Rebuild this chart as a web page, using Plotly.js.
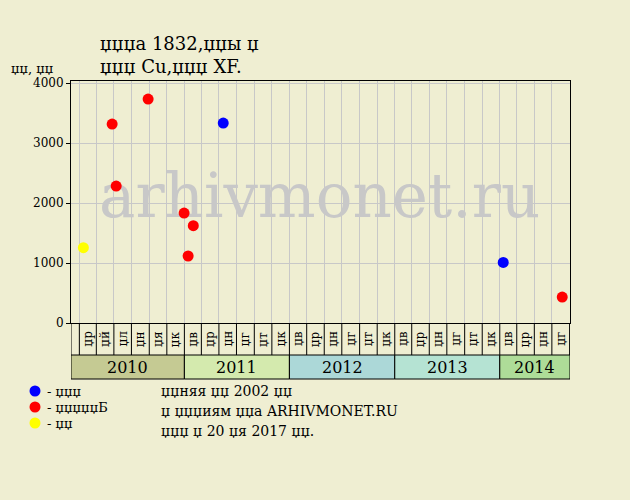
<!DOCTYPE html>
<html><head><meta charset="utf-8">
<script src="https://cdn.plot.ly/plotly-3.0.1.min.js"></script>
<style>html,body{margin:0;padding:0;background:#efeed2;}</style>
</head><body><div id="chart" style="width:630px;height:500px;"></div>
<script>
// ---- data ----
const blueName = 'џџџ';
const blueDates = ['2011-05-16', '2014-01-13'];
const blueValues = [3333, 1010];
const redName = 'џџџџџБ';
const redDates = ['2010-04-25', '2010-05-09', '2010-08-28', '2010-12-31', '2011-01-14', '2011-02-01', '2014-08-06'];
const redValues = [3317, 2283, 3733, 1833, 1117, 1622, 433];
const yellowName = 'џџ';
const yellowDates = ['2010-01-15'];
const yellowValues = [1255];

const years = ['2010', '2011', '2012', '2013', '2014'];
const yearStarts = ['2009-12-03', '2011-01-01', '2012-01-01', '2013-01-01', '2014-01-01'];
const yearEnds = ['2011-01-01', '2012-01-01', '2013-01-01', '2014-01-01', '2014-09-02'];
const yearColors = ['#c5ca93', '#d4eaae', '#acd8d8', '#b5e3d3', '#aedc98'];

const periodBounds = ['2010-01-01','2010-03-01','2010-05-01','2010-07-01','2010-09-01','2010-11-01',
  '2011-01-01','2011-03-01','2011-05-01','2011-07-01','2011-09-01','2011-11-01',
  '2012-01-01','2012-03-01','2012-05-01','2012-07-01','2012-09-01','2012-11-01',
  '2013-01-01','2013-03-01','2013-05-01','2013-07-01','2013-09-01','2013-11-01',
  '2014-01-01','2014-03-01','2014-05-01','2014-07-01','2014-09-01'];
const periodLabels = ['џр','џй','џл','џн','џя','џк',
  'џв','џр','џн','џг','џт','џк',
  'џв','џр','џн','џг','џт','џк',
  'џв','џр','џн','џг','џт','џк',
  'џв','џр','џн','џг'];
const yTicks = [0, 1000, 2000, 3000, 4000];

const titleLines = ['џџџа 1832,џџы џ', 'џџџ Cu,џџџ XF.'];
const yUnit = 'џџ, џџ';
const notes = ['џџняя џџ 2002 џџ', 'џ џџџиям џџа ARHIVMONET.RU', 'џџџ џ 20 џя 2017 џџ.'];
const watermark = 'arhivmonet.ru';

// ---- layout geometry ----
const W = 630, H = 500, L = 71, R = 60, T = 81, B = 177;
const pw = W - L - R, ph = H - T - B;
const px2x = X => (X - L) / pw;
const px2y = Y => (H - B - Y) / ph;
const FONT = 'DejaVu Serif';
const bg = '#efeed2';

function midDate(a, b) {
  const t = (Date.parse(a) + Date.parse(b)) / 2;
  return new Date(t).toISOString().slice(0, 10);
}

const traces = [
  {x: ['2012-04-15'], y: [2030], mode: 'text', text: [watermark], textposition: 'middle center',
   textfont: {family: FONT, size: 61, color: '#c8c8c8'}, hoverinfo: 'skip', showlegend: false, cliponaxis: false},
  {x: yellowDates, y: yellowValues, name: yellowName, mode: 'markers', marker: {color: '#ffff00', size: 11}, showlegend: false},
  {x: redDates, y: redValues, name: redName, mode: 'markers', marker: {color: '#ff0000', size: 11}, showlegend: false},
  {x: blueDates, y: blueValues, name: blueName, mode: 'markers', marker: {color: '#0000ff', size: 11}, showlegend: false}
];

const rowTop = 0, rowBot = px2y(355), yearBot = px2y(379);
const shapes = [];
const annotations = [];

// year boxes
years.forEach((yr, i) => {
  shapes.push({type: 'rect', xref: 'x', yref: 'paper', x0: yearStarts[i], x1: yearEnds[i], y0: rowBot, y1: yearBot,
    fillcolor: yearColors[i], line: {color: '#000', width: 1}, layer: 'above'});
  annotations.push({xref: 'x', yref: 'paper', x: midDate(yearStarts[i], yearEnds[i]), y: (rowBot + yearBot) / 2,
    xanchor: 'center', yanchor: 'middle',
    text: yr, showarrow: false, font: {family: FONT, size: 16, color: '#000'}});
});
// label row verticals
periodBounds.concat([yearStarts[0], yearEnds[yearEnds.length - 1]]).forEach(d => {
  shapes.push({type: 'line', xref: 'x', yref: 'paper', x0: d, x1: d, y0: rowTop, y1: rowBot, line: {color: '#000', width: 1}});
});
// label row text
periodLabels.forEach((lab, i) => {
  annotations.push({xref: 'x', yref: 'paper', x: midDate(periodBounds[i], periodBounds[i + 1]), y: (rowTop + rowBot) / 2,
    xanchor: 'center', yanchor: 'middle',
    text: lab, textangle: -90, showarrow: false, font: {family: FONT, size: 12, color: '#000'}});
});
// legend
const legendItems = [[blueName, '#0000ff'], [redName, '#ff0000'], [yellowName, '#ffff00']];
legendItems.forEach((it, i) => {
  const Y = 391 + i * 16;
  shapes.push({type: 'circle', xref: 'paper', yref: 'paper', xsizemode: 'pixel', ysizemode: 'pixel',
    xanchor: px2x(35), yanchor: px2y(Y), x0: -5.5, x1: 5.5, y0: -5.5, y1: 5.5, fillcolor: it[1], line: {width: 0}});
  annotations.push({xref: 'paper', yref: 'paper', x: px2x(45), y: px2y(Y), xanchor: 'left', yanchor: 'middle',
    text: '- ' + it[0], showarrow: false, font: {family: FONT, size: 13, color: '#000'}});
});
// notes
notes.forEach((n, i) => {
  annotations.push({xref: 'paper', yref: 'paper', x: px2x(159), y: px2y(391 + i * 20), xanchor: 'left', yanchor: 'middle',
    text: n, showarrow: false, font: {family: FONT, size: 14, color: '#000'}});
});
// y unit
annotations.push({xref: 'paper', yref: 'paper', x: px2x(9), y: px2y(68), xanchor: 'left', yanchor: 'middle',
  text: yUnit, showarrow: false, font: {family: FONT, size: 13, color: '#000'}});

const layout = {
  width: W, height: H,
  margin: {l: L, r: R, t: T, b: B, pad: 0},
  paper_bgcolor: bg, plot_bgcolor: bg,
  font: {family: FONT, color: '#000'},
  title: {text: titleLines.join('<br>'), x: 100 / W, xref: 'container', xanchor: 'left',
    y: 1 - 50 / H, yref: 'container', yanchor: 'top', font: {family: FONT, size: 18, color: '#000'}},
  showlegend: false,
  xaxis: {type: 'date', range: ['2009-12-03', '2014-09-02'], tickmode: 'array', tickvals: periodBounds,
    showticklabels: false, ticks: '', showgrid: true, gridcolor: '#c8c8c8', gridwidth: 1, zeroline: false,
    showline: true, mirror: true, linecolor: '#000', linewidth: 1},
  yaxis: {range: [0, 4035], tickmode: 'array', tickvals: yTicks, ticktext: yTicks.map(String),
    ticks: 'outside', ticklen: 4, tickcolor: '#000', showgrid: true, gridcolor: '#c8c8c8', gridwidth: 1,
    zeroline: false, showline: true, mirror: true, linecolor: '#000', linewidth: 1,
    tickfont: {family: FONT, size: 12, color: '#000'}},
  shapes: shapes,
  annotations: annotations
};

Plotly.newPlot('chart', traces, layout, {staticPlot: true, displayModeBar: false});
</script>
</body></html>
